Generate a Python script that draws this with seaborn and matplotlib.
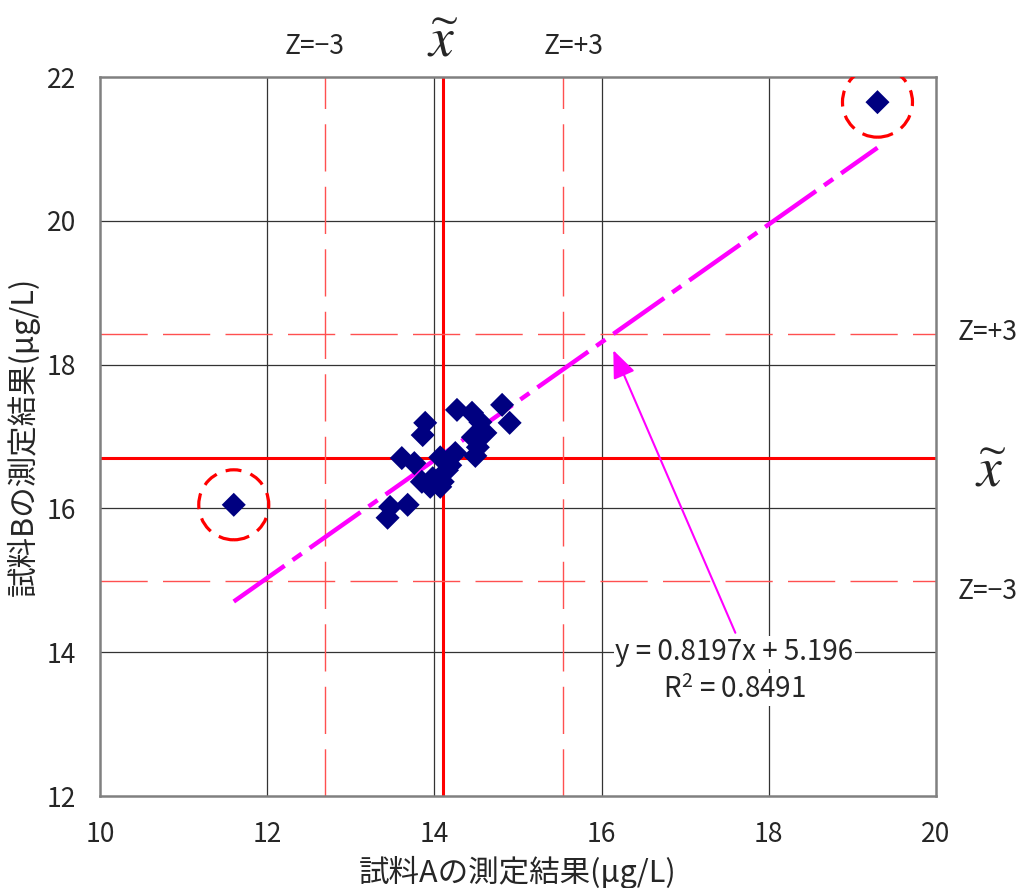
import matplotlib
matplotlib.use("Agg")
import matplotlib.pyplot as plt
import seaborn as sns
import pandas as pd
import numpy as np
from matplotlib.patches import Ellipse

# ---- data ----
sample_a = [13.44, 13.47, 13.68, 13.61, 13.76, 13.89, 13.86, 13.85, 13.98, 13.95,
            14.10, 14.07, 14.19, 14.25, 14.15, 14.27, 14.45, 14.55, 14.81, 14.90,
            14.61, 14.46, 14.52, 14.49, 14.07, 11.60, 19.30]
sample_b = [15.87, 16.02, 16.05, 16.70, 16.63, 17.19, 17.02, 16.37, 16.42, 16.30,
            16.37, 16.71, 16.60, 16.77, 16.53, 17.37, 17.33, 17.20, 17.44, 17.19,
            17.05, 16.99, 16.85, 16.73, 16.30, 16.05, 21.65]
outliers_a = [11.60, 19.30]
outliers_b = [16.05, 21.65]
slope = 0.8197
intercept = 5.196
r2 = 0.8491
median_a = 14.10
z_minus_a = 12.69
z_plus_a = 15.54
median_b = 16.70
z_minus_b = 14.99
z_plus_b = 18.42
x_ticks = [10, 12, 14, 16, 18, 20]
y_ticks = [12, 14, 16, 18, 20, 22]

sns.set_theme(style="white")
plt.rcParams['font.family'] = ['Noto Sans CJK JP', 'DejaVu Sans']
plt.rcParams['mathtext.fontset'] = 'stix'

fig = plt.figure(figsize=(10.21, 8.88), dpi=100)
ax = fig.add_axes([100/1021, 1-796/888, 836/1021, 719/888])

df = pd.DataFrame({"a": sample_a, "b": sample_b})

# grid
for gx in x_ticks[1:-1]:
    ax.axvline(gx, color="#333333", lw=0.9, zorder=1)
for gy in y_ticks[1:-1]:
    ax.axhline(gy, color="#333333", lw=0.9, zorder=1)

# reference lines
ax.axvline(median_a, color="#ff0000", lw=2.2, zorder=2)
ax.axhline(median_b, color="#ff0000", lw=2.2, zorder=2)
for v in (z_minus_a, z_plus_a):
    ax.axvline(v, color="#ff5050", lw=1.0, dashes=(34, 11), zorder=2)
for h in (z_minus_b, z_plus_b):
    ax.axhline(h, color="#ff5050", lw=1.0, dashes=(34, 11), zorder=2)

# trend line
xs = np.array([min(sample_a), max(sample_a)])
ax.plot(xs, slope * xs + intercept, color="#ff00ff", lw=3.2,
        dashes=(14, 2.2, 2.5, 2.2), zorder=3, solid_capstyle='butt', dash_capstyle='butt')

# scatter
sns.scatterplot(data=df, x="a", y="b", marker="D", color="#000080", s=150,
                edgecolor="none", ax=ax, zorder=4)

# outlier circles
for ox, oy in zip(outliers_a, outliers_b):
    ax.add_patch(Ellipse((ox, oy), width=70/83.6, height=70/71.9, fill=False,
                         edgecolor="#ff0000", lw=2.3, linestyle=(0, (5, 3)), zorder=5))

ax.set_xlim(10, 20)
ax.set_ylim(12, 22)
ax.set_xticks(x_ticks)
ax.set_yticks(y_ticks)
ax.tick_params(axis='both', length=0, labelsize=19)
ax.tick_params(axis='x', pad=18)
ax.tick_params(axis='y', pad=17)
for sp in ax.spines.values():
    sp.set_color("#808080")
    sp.set_linewidth(1.8)

ax.set_xlabel("試料Aの測定結果(μg/L)", fontsize=22, labelpad=6)
ax.set_ylabel("試料Bの測定結果(μg/L)", fontsize=22, labelpad=5)

# annotations outside the axes
lbl = dict(fontsize=19, ha="center", va="center", clip_on=False)
ax.text(12.57, 22.42, "Z=−3", **lbl)
ax.text(15.66, 22.42, "Z=+3", **lbl)
ax.text(14.10, 22.50, r"$\widetilde{x}$", fontsize=40, ha="center", va="center", clip_on=False)
ax.text(20.62, 18.45, "Z=+3", **lbl)
ax.text(20.65, 16.53, r"$\widetilde{x}$", fontsize=40, ha="center", va="center", clip_on=False)
ax.text(20.62, 14.84, "Z=−3", **lbl)

# regression equation
eq = f"y = {slope}x + {intercept}"
ax.annotate("", xy=(16.14, 18.20), xytext=(17.60, 14.27),
            arrowprops=dict(arrowstyle="-|>,head_length=0.85,head_width=0.35",
                            mutation_scale=20, color="#ff00ff", lw=1.5,
                            shrinkA=0, shrinkB=0), zorder=6)
ax.text(17.59, 14.0, eq, fontsize=20, ha="center", va="center", zorder=7,
        bbox=dict(facecolor="white", edgecolor="none", pad=1.0))
ax.text(17.59, 13.48, "R$^{\\mathregular{2}}$ = " + f"{r2}", fontsize=20, ha="center",
        va="center", zorder=7, bbox=dict(facecolor="white", edgecolor="none", pad=1.0))

fig.savefig("out.png", dpi=100)
